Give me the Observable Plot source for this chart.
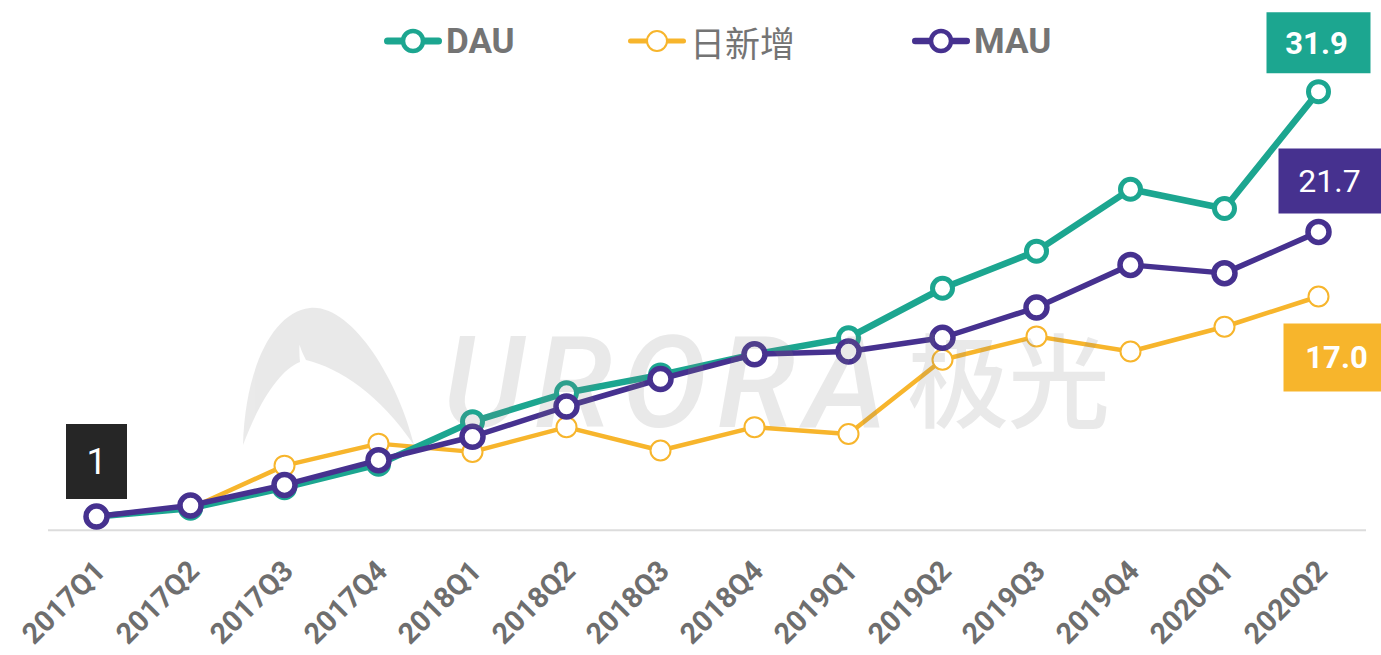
<!DOCTYPE html>
<html><head><meta charset="utf-8">
<script src="https://cdn.jsdelivr.net/npm/d3@7"></script>
<script src="https://cdn.jsdelivr.net/npm/@observablehq/plot@0.6"></script>
<style>
body{margin:0;background:#fff;font-family:Roboto,"Noto Sans CJK SC",sans-serif;}
#wrap{position:relative;width:1381px;height:655px;overflow:hidden;background:#fff;}
#chart svg{display:block;overflow:visible;}
#wm{position:absolute;left:0;top:0;pointer-events:none;}
.item{position:absolute;top:22px;height:38px;display:flex;align-items:center;color:#747474;font-size:35px;}
.item svg{display:block;margin-right:4px;}
</style></head>
<body>
<div id="wrap">
  <div id="chart"></div>
  <svg id="wm" width="1381" height="655">
    <g fill="#808080" opacity="0.17">
      <path d="M243,445 C245,370 272,312 310,308 C352,304 398,380 414,445 C380,395 340,368 306,360 C290,330 300,318 318,318 C300,318 298,345 300,362 C280,370 260,400 243,445 Z"/>
      <text x="443" y="427" font-family="Roboto" font-style="italic" font-weight="500" font-size="128" textLength="444" lengthAdjust="spacing">URORA</text>
      <text x="907" y="420" font-family="Noto Sans CJK SC" font-weight="500" font-size="102" textLength="203" lengthAdjust="spacing">极光</text>
    </g>
  </svg>
  <div id="legend"></div>
</div>
<script>
const quarters = ["2017Q1","2017Q2","2017Q3","2017Q4","2018Q1","2018Q2","2018Q3","2018Q4","2019Q1","2019Q2","2019Q3","2019Q4","2020Q1","2020Q2"];
const dau   = [1, 1.6, 3.1, 4.8, 7.9, 10.0, 11.3, 12.8, 14.0, 17.6, 20.3, 24.8, 23.4, 31.9];
const mau   = [1, 1.8, 3.3, 5.1, 6.8, 9.0, 11.0, 12.8, 13.0, 14.0, 16.2, 19.3, 18.7, 21.7];
const daily = [1, 1.6, 4.7, 6.3, 5.7, 7.5, 5.8, 7.5, 7.0, 12.4, 14.1, 13.0, 14.8, 17.0];
const seriesNames = ["DAU", "日新增", "MAU"];
const colors = ["#1ca690", "#f7b52c", "#46318f"];
const endLabels = ["31.9", "21.7", "17.0"];
const startLabel = "1";

const rows = s => quarters.map((q, i) => ({q, v: s[i]}));
const D = rows(dau), M = rows(mau), N = rows(daily);
const last = quarters.length - 1;

function box(w, h) { return {draw(ctx) { ctx.rect(-w / 2, -h / 2, w, h); }}; }

const xy = {x: "q", y: "v"};
const plot = Plot.plot({
  width: 1381, height: 655,
  marginLeft: 48, marginRight: 15, marginTop: 48.5, marginBottom: 125.25,
  style: {fontFamily: "Roboto, sans-serif", background: "transparent", overflow: "visible"},
  x: {type: "point", domain: quarters, padding: 0.5, label: null},
  y: {domain: [0, 35], axis: null},
  marks: [
    Plot.ruleY([0], {stroke: "#dcdcdc", strokeWidth: 2}),
    Plot.axisX({tickSize: 0, tickPadding: 36, tickRotate: -45, fontSize: 29, fontWeight: "bold", color: "#6e6e6e", label: null, dx: 4}),
    Plot.line(N, {...xy, stroke: colors[1], strokeWidth: 4.5}),
    Plot.dot(N, {...xy, r: 10, fill: "white", stroke: colors[1], strokeWidth: 2}),
    Plot.line(D, {...xy, stroke: colors[0], strokeWidth: 6.5}),
    Plot.dot(D, {...xy, r: 10, fill: "white", stroke: colors[0], strokeWidth: 5}),
    Plot.line(M, {...xy, stroke: colors[2], strokeWidth: 5.5}),
    Plot.dot(M, {...xy, r: 10.5, fill: "white", stroke: colors[2], strokeWidth: 5.5}),
    // value boxes
    Plot.dot([D[last]], {...xy, r: 10, symbol: box(104, 61), fill: colors[0], dy: -49}),
    Plot.text([D[last]], {...xy, text: () => endLabels[0], fill: "white", fontSize: 31, fontWeight: "bold", dx: -2, dy: -48}),
    Plot.dot([M[last]], {...xy, r: 10, symbol: box(104, 65), fill: colors[2], dx: 12, dy: -51}),
    Plot.text([M[last]], {...xy, text: () => endLabels[1], fill: "white", fontSize: 32, dx: 11, dy: -50}),
    Plot.dot([N[last]], {...xy, r: 10, symbol: box(100, 68), fill: colors[1], dx: 15, dy: 61}),
    Plot.text([N[last]], {...xy, text: () => endLabels[2], fill: "white", fontSize: 31, fontWeight: "bold", dx: 18, dy: 62}),
    Plot.dot([M[0]], {...xy, r: 10, symbol: box(61, 75), fill: "#262626", dy: -55}),
    Plot.text([M[0]], {...xy, text: () => startLabel, fill: "white", fontSize: 36, dy: -54})
  ]
});
document.getElementById("chart").append(plot);

// legend
const legendLeft = [384, 628, 912];
const legendStyle = [
  {lw: 7, r: 10, sw: 4.5, weight: "bold"},
  {lw: 5, r: 10, sw: 2, weight: "normal"},
  {lw: 6.5, r: 10, sw: 4.5, weight: "bold"}
];
const leg = document.getElementById("legend");
seriesNames.forEach((name, i) => {
  const st = legendStyle[i];
  const div = document.createElement("div");
  div.className = "item";
  div.style.left = legendLeft[i] + "px";
  div.innerHTML = `<svg width="58" height="30"><line x1="${st.lw/2}" x2="${58-st.lw/2}" y1="15" y2="15" stroke="${colors[i]}" stroke-width="${st.lw}" stroke-linecap="round"/><circle cx="29" cy="15" r="${st.r}" fill="white" stroke="${colors[i]}" stroke-width="${st.sw}"/></svg><span style="font-weight:${st.weight}">${name}</span>`;
  leg.append(div);
});
</script>
</body></html>
